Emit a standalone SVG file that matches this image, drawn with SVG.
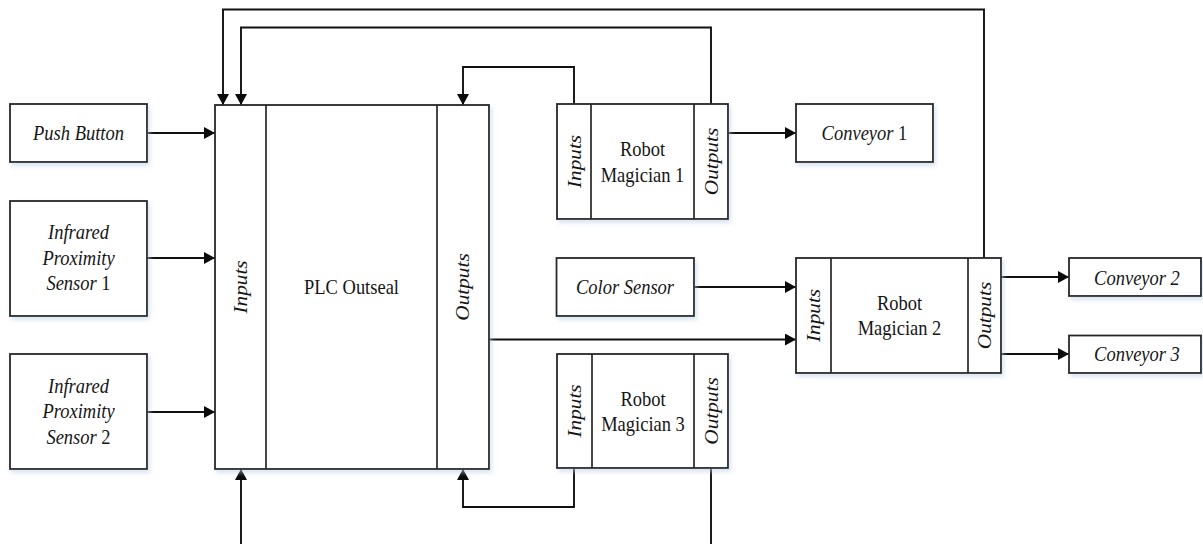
<svg xmlns="http://www.w3.org/2000/svg" width="1203" height="544" viewBox="0 0 1203 544">
<style>
.box{fill:#fff;stroke:#262626;stroke-width:1.8;filter:url(#sh)}
.div{stroke:#262626;stroke-width:1.7;fill:none}
.con{fill:none;stroke:#111;stroke-width:1.9}
text{font-family:"Liberation Serif","Times New Roman",serif;font-size:18.5px;fill:#151515;text-anchor:middle}
.it{font-style:italic}
.up{font-style:normal}
</style>
<defs>
<filter id="sh" x="-10%" y="-10%" width="130%" height="130%">
<feDropShadow dx="2" dy="3" stdDeviation="2" flood-color="#b9cde4" flood-opacity="0.55"/>
</filter>
<marker id="ah" viewBox="0 0 11 12" refX="11" refY="6" markerWidth="11" markerHeight="12" markerUnits="userSpaceOnUse" orient="auto">
<path d="M0,0 L11,6 L0,12 Z" fill="#0a0a0a"/>
</marker>
</defs>

<g id="connectors">
<path class="con" d="M147,133 H215" marker-end="url(#ah)"/>
<path class="con" d="M147,258 H215" marker-end="url(#ah)"/>
<path class="con" d="M147,412 H215" marker-end="url(#ah)"/>
<path class="con" d="M984,258 V9.5 H223 V105" marker-end="url(#ah)"/>
<path class="con" d="M711,104 V27.5 H241 V105" marker-end="url(#ah)"/>
<path class="con" d="M574,104 V67 H463 V105" marker-end="url(#ah)"/>
<path class="con" d="M728,133 H796" marker-end="url(#ah)"/>
<path class="con" d="M694,287 H796" marker-end="url(#ah)"/>
<path class="con" d="M489,339.5 H796" marker-end="url(#ah)"/>
<path class="con" d="M1001,277 H1069" marker-end="url(#ah)"/>
<path class="con" d="M1001,354 H1069" marker-end="url(#ah)"/>
<path class="con" d="M574,468 V507 H463 V469" marker-end="url(#ah)"/>
<path class="con" d="M241,544 V469" marker-end="url(#ah)"/>
<path class="con" d="M711,468 V544"/>
</g>

<g id="push-button">
<rect class="box" x="10" y="104" width="137" height="58"/>
<text class="it" transform="translate(78.5,140) scale(1,1.15)">Push Button</text>
</g>

<g id="ir-sensor-1">
<rect class="box" x="10" y="201" width="137" height="115"/>
<text class="it" transform="translate(78.5,239) scale(1,1.15)">Infrared</text>
<text class="it" transform="translate(78.5,264.5) scale(1,1.15)">Proximity</text>
<text class="it" transform="translate(78.5,290) scale(1,1.15)">Sensor <tspan class="up">1</tspan></text>
</g>

<g id="ir-sensor-2">
<rect class="box" x="10" y="354" width="137" height="115"/>
<text class="it" transform="translate(78.5,392.5) scale(1,1.15)">Infrared</text>
<text class="it" transform="translate(78.5,418) scale(1,1.15)">Proximity</text>
<text class="it" transform="translate(78.5,443.5) scale(1,1.15)">Sensor <tspan class="up">2</tspan></text>
</g>

<g id="plc-outseal">
<rect class="box" x="215" y="105" width="274" height="364"/>
<line class="div" x1="266" y1="105" x2="266" y2="469"/>
<line class="div" x1="437" y1="105" x2="437" y2="469"/>
<text class="it" transform="translate(247,287) scale(1,1.15) rotate(-90)">Inputs</text>
<text transform="translate(351.5,294) scale(1,1.15)">PLC Outseal</text>
<text class="it" transform="translate(469,287) scale(1,1.15) rotate(-90)">Outputs</text>
</g>

<g id="robot-magician-1">
<rect class="box" x="557" y="104" width="171" height="115"/>
<line class="div" x1="591" y1="104" x2="591" y2="219"/>
<line class="div" x1="694" y1="104" x2="694" y2="219"/>
<text class="it" transform="translate(580.5,161.5) scale(1,1.15) rotate(-90)">Inputs</text>
<text transform="translate(642.5,156) scale(1,1.15)">Robot</text>
<text transform="translate(642.5,181.5) scale(1,1.15)">Magician 1</text>
<text class="it" transform="translate(717.5,161.5) scale(1,1.15) rotate(-90)">Outputs</text>
</g>

<g id="conveyor-1">
<rect class="box" x="796" y="104" width="137" height="58"/>
<text class="it" transform="translate(864.5,140) scale(1,1.15)">Conveyor <tspan class="up">1</tspan></text>
</g>

<g id="color-sensor">
<rect class="box" x="556.5" y="258" width="137.5" height="58"/>
<text class="it" transform="translate(625,293.5) scale(1,1.15)">Color Sensor</text>
</g>

<g id="robot-magician-2">
<rect class="box" x="796" y="258" width="205" height="115"/>
<line class="div" x1="831" y1="258" x2="831" y2="373"/>
<line class="div" x1="968" y1="258" x2="968" y2="373"/>
<text class="it" transform="translate(819.5,315.5) scale(1,1.15) rotate(-90)">Inputs</text>
<text transform="translate(899.5,310) scale(1,1.15)">Robot</text>
<text transform="translate(899.5,334.5) scale(1,1.15)">Magician 2</text>
<text class="it" transform="translate(991,315.5) scale(1,1.15) rotate(-90)">Outputs</text>
</g>

<g id="conveyor-2">
<rect class="box" x="1069" y="258" width="132" height="38"/>
<text class="it" transform="translate(1137,285) scale(1,1.15)">Conveyor 2</text>
</g>

<g id="conveyor-3">
<rect class="box" x="1069" y="335.5" width="132" height="37.5"/>
<text class="it" transform="translate(1137,361) scale(1,1.15)">Conveyor 3</text>
</g>

<g id="robot-magician-3">
<rect class="box" x="557" y="354" width="171" height="114"/>
<line class="div" x1="592" y1="354" x2="592" y2="468"/>
<line class="div" x1="694" y1="354" x2="694" y2="468"/>
<text class="it" transform="translate(580.5,411) scale(1,1.15) rotate(-90)">Inputs</text>
<text transform="translate(643,405.5) scale(1,1.15)">Robot</text>
<text transform="translate(643,430.5) scale(1,1.15)">Magician 3</text>
<text class="it" transform="translate(717.5,411) scale(1,1.15) rotate(-90)">Outputs</text>
</g>
</svg>
